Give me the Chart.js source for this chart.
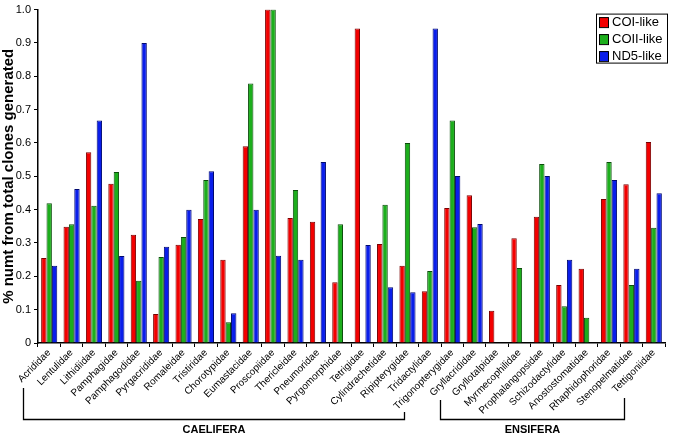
<!DOCTYPE html>
<html>
<head>
<meta charset="utf-8">
<script src="https://cdn.jsdelivr.net/npm/chart.js@4.4.1/dist/chart.umd.min.js"></script>
<style>
    html, body { margin: 0; padding: 0; background: #fff; }
    #wrap { width: 675px; height: 435px; }
</style>
</head>
<body>
<div id="wrap"><canvas id="numtChart" width="675" height="435"></canvas></div>
<script>
// families on the x axis
const families = [
    'Acrididae', 'Lentulidae', 'Lithidiidae', 'Pamphagidae', 'Pamphagodidae',
    'Pyrgacrididae', 'Romaleidae', 'Tristiridae', 'Chorotypidae', 'Eumastacidae',
    'Proscopiidae', 'Thericleidae', 'Pneumoridae', 'Pyrgomorphidae', 'Tetrigidae',
    'Cylindrachetidae', 'Ripipterygidae', 'Tridactylidae', 'Trigonopterygidae',
    'Gryllacrididae', 'Gryllotalpidae', 'Myrmecophilidae', 'Prophalangopsidae',
    'Schizodactylidae', 'Anostostomatidae', 'Rhaphidophoridae', 'Stenopelmatidae',
    'Tettigoniidae'
];

// fraction of numts
const coiLike = [
    0.255, 0.349, 0.572, 0.478, 0.325, 0.087, 0.295, 0.372, 0.250, 0.590,
    1.000, 0.375, 0.364, 0.182, 0.943, 0.297, 0.232, 0.155, 0.405, 0.443,
    0.097, 0.314, 0.379, 0.174, 0.223, 0.432, 0.476, 0.603
];
const coiiLike = [
    0.419, 0.356, 0.412, 0.513, 0.187, 0.258, 0.318, 0.489, 0.062, 0.778,
    1.000, 0.459, 0, 0.356, 0, 0.415, 0.600, 0.216, 0.667, 0.347,
    0, 0.225, 0.537, 0.110, 0.076, 0.543, 0.174, 0.346
];
const nd5Like = [
    0.232, 0.462, 0.667, 0.261, 0.900, 0.289, 0.400, 0.515, 0.089, 0.400,
    0.262, 0.250, 0.543, 0, 0.294, 0.167, 0.152, 0.943, 0.501, 0.357,
    0, 0, 0.501, 0.250, 0, 0.489, 0.223, 0.449
];

const yTicks = [0, 0.1, 0.2, 0.3, 0.4, 0.5, 0.6, 0.7, 0.8, 0.9, 1.0];

// suborder brackets under the labels (in category units)
const groups = [
    { name: 'CAELIFERA', from: -1.17, to: 15.84, leftTop: 388, rightTop: 412 },
    { name: 'ENSIFERA', from: 17.45, to: 25.66, leftTop: 400, rightTop: 398 }
];

// Draw the boxed legend in the top right corner
const boxLegend = {
    id: 'boxLegend',
    afterDraw(chart) {
        const ctx = chart.ctx;
        const area = chart.chartArea;
        const x = area.right - 69;
        const y = area.top + 4;
        ctx.save();
        ctx.fillStyle = '#fff';
        ctx.fillRect(x, y, 71, 49);
        ctx.strokeStyle = '#000';
        ctx.lineWidth = 1;
        ctx.strokeRect(x + 0.5, y + 0.5, 71, 49);
        ctx.font = '13px "Liberation Sans", Arial, sans-serif';
        ctx.textBaseline = 'middle';
        chart.data.datasets.forEach((ds, i) => {
            const cy = y + 8.5 + i * 17;
            ctx.fillStyle = ds.backgroundColor;
            ctx.fillRect(x + 3, cy - 5, 9, 10);
            ctx.strokeStyle = '#000';
            ctx.strokeRect(x + 3.5, cy - 4.5, 9, 10);
            ctx.fillStyle = '#000';
            ctx.fillText(ds.label, x + 16, cy + 0.5);
        });
        ctx.restore();
    }
};

// Draw the CAELIFERA / ENSIFERA brackets
const brackets = {
    id: 'brackets',
    afterDraw(chart) {
        const ctx = chart.ctx;
        const xs = chart.scales.x;
        const base = 419.5;
        ctx.save();
        ctx.strokeStyle = '#000';
        ctx.lineWidth = 1.3;
        ctx.fillStyle = '#000';
        ctx.font = 'bold 11px "Liberation Sans", Arial, sans-serif';
        ctx.textAlign = 'center';
        ctx.textBaseline = 'middle';
        groups.forEach(g => {
            const x1 = Math.round(xs.getPixelForValue(g.from)) + 0.5;
            const x2 = Math.round(xs.getPixelForValue(g.to)) + 0.5;
            ctx.beginPath();
            ctx.moveTo(x1, g.leftTop);
            ctx.lineTo(x1, base);
            ctx.lineTo(x2, base);
            ctx.lineTo(x2, g.rightTop);
            ctx.stroke();
            ctx.fillText(g.name, (x1 + x2) / 2, base + 10);
        });
        ctx.restore();
    }
};

const ctx = document.getElementById('numtChart').getContext('2d');
new Chart(ctx, {
    type: 'bar',
    data: {
        labels: families,
        datasets: [
            { label: 'COI-like', data: coiLike, backgroundColor: '#f20000', borderColor: '#7a0000' },
            { label: 'COII-like', data: coiiLike, backgroundColor: '#1cae1c', borderColor: '#0b4d0b' },
            { label: 'ND5-like', data: nd5Like, backgroundColor: '#0a1eea', borderColor: '#000a70' }
        ]
    },
    options: {
        responsive: false,
        animation: false,
        layout: { padding: { top: 5, right: 10, left: 0, bottom: 0 } },
        datasets: {
            bar: {
                borderWidth: 1,
                categoryPercentage: 0.72,
                barPercentage: 1.0
            }
        },
        plugins: {
            legend: { display: false },
            tooltip: { enabled: false }
        },
        scales: {
            x: {
                offset: true,
                grid: {
                    offset: true,
                    drawOnChartArea: false,
                    drawTicks: true,
                    tickLength: 4,
                    color: '#000'
                },
                border: { color: '#000', width: 1.5 },
                ticks: {
                    autoSkip: false,
                    minRotation: 45,
                    maxRotation: 45,
                    padding: 0,
                    color: '#000',
                    font: { family: '"Liberation Sans", Arial, sans-serif', size: 10 }
                },
                afterFit(scale) { scale.height = 92; }
            },
            y: {
                min: 0,
                max: 1,
                afterBuildTicks(scale) {
                    scale.ticks = yTicks.map(v => ({ value: v }));
                },
                grid: {
                    drawOnChartArea: false,
                    drawTicks: true,
                    tickLength: 4,
                    color: '#000'
                },
                border: { color: '#000', width: 1.5 },
                ticks: {
                    padding: 3,
                    color: '#000',
                    font: { family: '"Liberation Sans", Arial, sans-serif', size: 11 },
                    callback: v => v === 0 ? '0' : v.toFixed(1)
                },
                title: {
                    display: true,
                    text: '% numt from total clones generated',
                    color: '#000',
                    padding: { top: 0, bottom: 0 },
                    font: { family: '"Liberation Sans", Arial, sans-serif', size: 15, weight: 'bold' }
                },
                afterFit(scale) { scale.width = 38; }
            }
        }
    },
    plugins: [boxLegend, brackets]
});
</script>
</body>
</html>
